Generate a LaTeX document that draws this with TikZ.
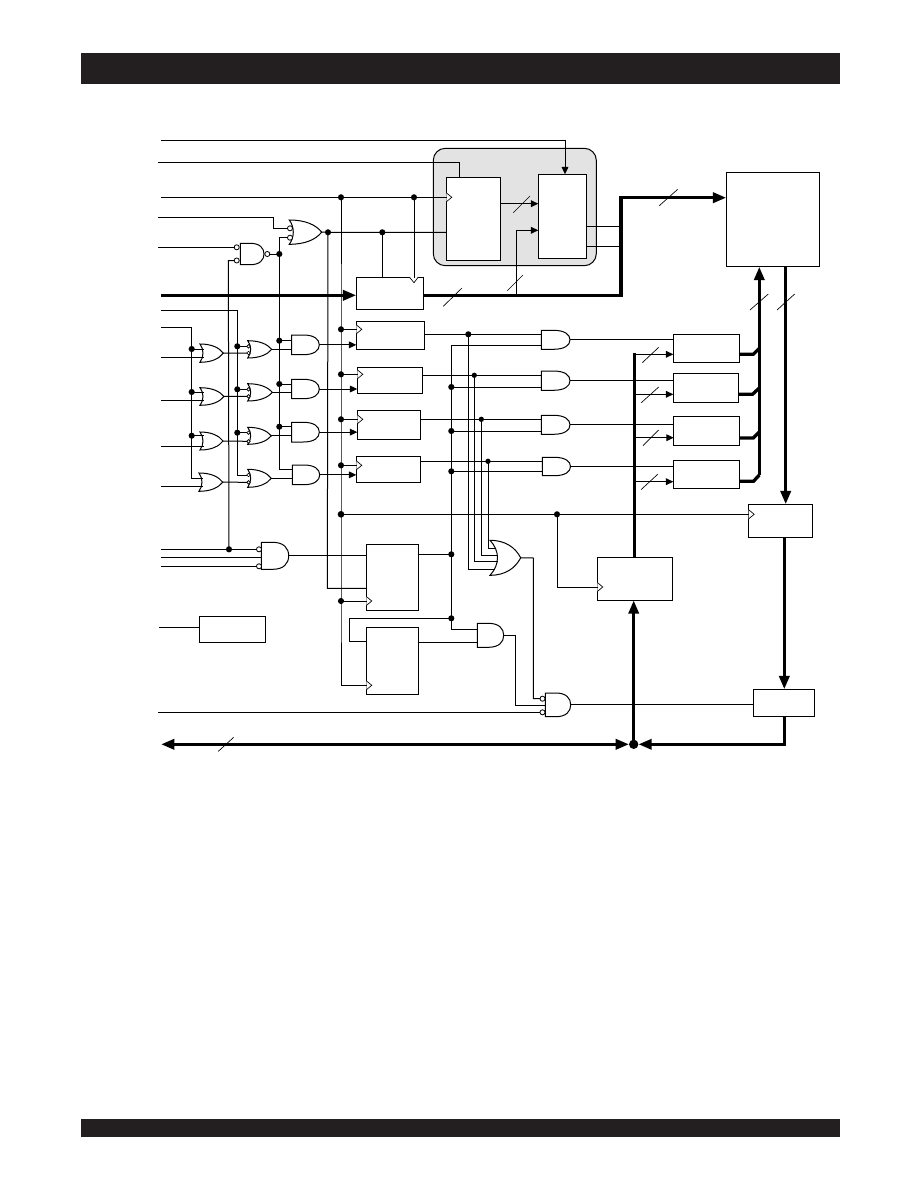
\documentclass[tikz,border=0pt]{standalone}
\usetikzlibrary{arrows.meta,fit,calc}
\definecolor{panelgrey}{gray}{0.89}
\definecolor{barblack}{HTML}{231F20}
\tikzset{
  wire/.style={line width=.75pt,line cap=rect},
  bus/.style={line width=2.5pt,line join=miter},
  thinslash/.style={line width=.5pt},
  boxn/.style={draw,line width=.75pt,fill=white,inner sep=0pt,outer sep=0pt},
  gatebb/.style={inner sep=0pt,outer sep=0pt},
  gateline/.style={line width=.75pt,fill=white},
  junct/.style={circle,fill=black,inner sep=0pt,outer sep=0pt,minimum size=4.6pt},
  bigjunct/.style={circle,fill=black,inner sep=0pt,outer sep=0pt,minimum size=7pt},
  bub/.style={circle,draw,line width=.6pt,fill=white,inner sep=0pt,outer sep=0pt,minimum size=3.8pt},
  smallbub/.style={circle,draw,line width=.5pt,fill=white,inner sep=0pt,outer sep=0pt,minimum size=2.6pt},
  sarrow/.style={-{Triangle[length=5.5pt,width=5pt]}},
  barrow/.style={-{Triangle[length=10pt,width=7.5pt]}},
  barrowboth/.style={{Triangle[length=10pt,width=7.5pt]}-{Triangle[length=10pt,width=7.5pt]}},
}
\newcommand\mkbox[5]{\node[boxn,fit={(#2,#3)(#4,#5)}] (#1) {};}
\newcommand\andg[5]{%
  \draw[gateline] (#2,#3) -- ({#2+.42*(#4-#2)},#3)
    .. controls ({#2+.82*(#4-#2)},#3) and (#4,{#3+.22*(#5-#3)}) .. (#4,{(#3+#5)/2})
    .. controls (#4,{#5-.22*(#5-#3)}) and ({#2+.82*(#4-#2)},#5) .. ({#2+.42*(#4-#2)},#5)
    -- (#2,#5) -- cycle;
  \node[gatebb,fit={(#2,#3)(#4,#5)}] (#1) {};}
\newcommand\org[6]{%
  \draw[gateline] (#2,#3) .. controls ({#2+.5*(#4-#2)},#3) and ({#2+.82*(#4-#2)},{#3+.2*(#5-#3)}) .. (#4,{(#3+#5)/2})
    .. controls ({#2+.82*(#4-#2)},{#5-.2*(#5-#3)}) and ({#2+.5*(#4-#2)},#5) .. (#2,#5)
    .. controls ({#2+1.33*#6},{#5-.3*(#5-#3)}) and ({#2+1.33*#6},{#3+.3*(#5-#3)}) .. cycle;
  \node[gatebb,fit={(#2,#3)(#4,#5)}] (#1) {};}
\newcommand\clkl[2]{\draw[line width=.5pt,fill=white] (#1,{#2-4.5}) -- ({#1+5.5},#2) -- (#1,{#2+4.5});}
\newcommand\slsh[4]{\draw[thinslash] (#1,#2) -- (#3,#4);}
\begin{document}
\begin{tikzpicture}[x=.75pt,y=-.75pt]
\useasboundingbox (0,0) rectangle (918,1188);
% header and footer bars
\fill[barblack] (81,53) rectangle (840,84);
\fill[barblack] (81,1119) rectangle (840,1137);
% shaded panel
\draw[line width=.75pt,fill=panelgrey,rounded corners=9pt] (433.3,148.3) rectangle (596.3,265.7);
% boxes
\mkbox{regA}{446.3}{177.3}{500.3}{260.3}
\mkbox{regB}{538.3}{174.3}{586.3}{258.3}
\mkbox{mem}{726.3}{172.3}{819.3}{266.7}
\mkbox{addr}{356.3}{277}{423.7}{309.3}
\mkbox{ka}{356.3}{321.7}{424.3}{349.3}
\mkbox{kb}{357.3}{367.3}{422.3}{393.3}
\mkbox{kc}{357.3}{410.3}{420.3}{439.3}
\mkbox{kd}{356.3}{456.3}{420.3}{482.3}
\mkbox{ta}{673.3}{334.3}{739.3}{362.3}
\mkbox{tb}{673.3}{373.3}{738.3}{402.3}
\mkbox{tc}{673.7}{416.3}{739.7}{445.3}
\mkbox{td}{673.3}{460.3}{739.3}{488.3}
\mkbox{outreg}{748.7}{504.3}{812.3}{537.3}
\mkbox{inreg}{597.3}{557.3}{672.3}{600.3}
\mkbox{drv}{753.3}{689.3}{814.7}{716.7}
\mkbox{ffa}{366.3}{544.3}{418.3}{610.3}
\mkbox{ffb}{366.3}{627.3}{418.3}{694.3}
\mkbox{small}{199.3}{616.3}{265.7}{642.3}
% gates
\org{ortop}{289.3}{220}{321.7}{244.3}{4}
\andg{nand}{240.3}{243.3}{264}{264.7}
\org{la}{200}{344}{223.3}{362.3}{3}
\org{lb}{200}{387.7}{224}{405.3}{3}
\org{lc}{200}{432}{223}{450}{3}
\org{ld}{199}{473}{222.7}{491.3}{3}
\org{ma}{247.7}{340.7}{271.7}{358}{3}
\org{mb}{247.7}{383.7}{272.3}{401}{3}
\org{mc}{247.7}{427.3}{271.3}{444.3}{3}
\org{md}{247.7}{469.3}{271.3}{487.3}{3}
\andg{aa}{291.7}{335}{319.3}{354.7}
\andg{ab}{291.7}{379.3}{319.3}{398.7}
\andg{ac}{291.7}{422.3}{319.3}{442}
\andg{ad}{292.3}{465}{319.7}{484.7}
\andg{ra}{541.3}{330.3}{570}{349.3}
\andg{rb}{541.3}{371}{570}{390.3}
\andg{rc}{541.3}{415.3}{570}{434.3}
\andg{rd}{542.3}{457.3}{570.5}{475.7}
\org{orbig}{490}{540.3}{520.7}{575.3}{7.5}
\andg{and5}{477.3}{623.3}{503.7}{647.3}
\andg{and6}{545.3}{693}{570.7}{716.7}
\andg{andbig}{261.3}{542.3}{288.7}{569.3}
% bubbles
\node[bub] (b1) at (290,228.3) {};
\node[bub] (b2) at (290,237.7) {};
\node[bub] (b3) at (236.7,247.3) {};
\node[bub] (b4) at (236.7,260.5) {};
\node[bub] (b5) at (267.3,254) {};
\node[bub] (b6) at (259,549.3) {};
\node[bub] (b7) at (259,566.3) {};
\node[bub] (b8) at (542.5,698.7) {};
\node[bub] (b9) at (542.5,712.3) {};
\node[smallbub] (s1) at (248.5,346.3) {};
\node[smallbub] (s2) at (248.5,353) {};
\node[smallbub] (s3) at (248.5,389.3) {};
\node[smallbub] (s4) at (248.5,396.3) {};
\node[smallbub] (s5) at (248.5,432.7) {};
\node[smallbub] (s6) at (248.5,441.3) {};
\node[smallbub] (s7) at (248.5,475) {};
\node[smallbub] (s8) at (248.5,482.3) {};
% junctions
\node[junct] (clk) at (341,197.3) {};
\node[junct] (clk2) at (414,197.3) {};
\node[junct] (oe) at (328,232.3) {};
\node[junct] (oe2) at (382.3,232.3) {};
\node[junct] (n1) at (279.3,254) {};
\node[junct] (n2) at (279.3,340.7) {};
\node[junct] (n3) at (279.3,384) {};
\node[junct] (n4) at (279.3,426.7) {};
\node[junct] (p1) at (237.3,346.3) {};
\node[junct] (p2) at (237.3,389.3) {};
\node[junct] (p3) at (237.3,432.7) {};
\node[junct] (q1) at (191.7,349) {};
\node[junct] (q2) at (191.7,392) {};
\node[junct] (q3) at (191.7,435.7) {};
\node[junct] (c1) at (341,329.3) {};
\node[junct] (c2) at (341,374.3) {};
\node[junct] (c3) at (341,419.3) {};
\node[junct] (c4) at (341,465.3) {};
\node[junct,minimum size=5pt] (c5) at (341,514.3) {};
\node[junct] (c6) at (341,601) {};
\node[junct] (r1) at (229,549.3) {};
\node[junct] (v1) at (468.3,334.3) {};
\node[junct,minimum size=4pt] (v2) at (474.3,375.3) {};
\node[junct,minimum size=4pt] (v3) at (481.3,419.3) {};
\node[junct,minimum size=4pt] (v4) at (488,461.3) {};
\node[junct] (w2) at (451.3,387) {};
\node[junct] (w3) at (451.3,431) {};
\node[junct] (w4) at (451.3,471.3) {};
\node[junct] (w5) at (451.3,554.3) {};
\node[junct] (w6) at (451.3,618.3) {};
\node[junct] (u1) at (557,514.3) {};
\node[bigjunct] (hub) at (633.7,744.3) {};
\coordinate (busturn) at (621,295.3);
\coordinate (bustop) at (621,197.7);
\coordinate (rail) at (759.3,475);
% clock marks
\clkl{446.3}{197.3}
\clkl{356.3}{329.3}\clkl{357.3}{374.3}\clkl{357.3}{419.3}\clkl{356.3}{465.3}
\clkl{366.3}{601}\clkl{366.3}{685.3}
\clkl{748.7}{514.3}\clkl{597.3}{587}
\draw[line width=.5pt,fill=white] (409.3,277) -- (414,282.7) -- (418.3,277);
% thin wires: top inputs
\draw[wire,sarrow] (161,140.3) -- (565,140.3) -- (regB.north -| 565,0);
\draw[wire] (158,162.3) -- (459.3,162.3) -- (regA.north -| 459.3,0);
\draw[wire] (161,197.3) -- (clk) -- (clk2) -- (regA.west |- clk);
\draw[wire] (158,217.3) -- (273.3,217.3) -- (273.3,228.3) -- (b1.west);
\draw[wire] (b2.west) -- (279.3,237.7) -- (n1.center);
\draw[wire] (n1.center) -- (n2.center) -- (n3.center) -- (n4.center) -- (279.3,469.3) -- (ad.west |- 0,469.3);
\draw[wire] (b5.east) -- (n1.center);
\draw[wire] (ortop.east) -- (oe.center) -- (oe2.center) -- (regA.west |- oe2);
\draw[wire] (oe.center) -- (327.3,588.3) -- (ffa.west |- 0,588.3);
\draw[wire] (oe2.center) -- (addr.north -| oe2);
\draw[wire] (clk2.center) -- (414,277);
\draw[wire] (158,247.3) -- (b3.west);
\draw[wire] (b4.west) -- (228.3,260.5) -- (r1.center);
% second input rails
\draw[wire] (161,310.3) -- (237.3,310.3) -- (p1.center) -- (p2.center) -- (p3.center) -- (237.3,475) -- (s7.west);
\draw[wire] (161,327.3) -- (191.7,327.3) -- (q1.center) -- (q2.center) -- (q3.center) -- (191.7,478.3) -- (202,478.3);
\foreach \pa in {q1,q2,q3} \draw[wire] (\pa.center) -- (203,0 |- \pa);
\draw[wire] (161,357.3) -- (203,357.3);
\draw[wire] (161,400.3) -- (203,400.3);
\draw[wire] (161,446.3) -- (203,446.3);
\draw[wire] (161,486.3) -- (202,486.3);
\draw[wire] (la.east) -- (s2.west);
\draw[wire] (lb.east) -- (s4.west);
\draw[wire] (lc.east) -- (s6.west);
\draw[wire] (ld.east) -- (s8.west);
\draw[wire] (p1.center) -- (s1.west);
\draw[wire] (p2.center) -- (s3.west);
\draw[wire] (p3.center) -- (s5.west);
\draw[wire] (ma.east) -- (aa.west |- ma.east);
\draw[wire] (mb.east) -- (ab.west |- mb.east);
\draw[wire] (mc.east) -- (ac.west |- mc.east);
\draw[wire] (md.east) -- (ad.west |- md.east);
\draw[wire] (n2.center) -- (aa.west |- n2);
\draw[wire] (n3.center) -- (ab.west |- n3);
\draw[wire] (n4.center) -- (ac.west |- n4);
\draw[wire,sarrow] (aa.east) -- (ka.west |- aa.east);
\draw[wire,sarrow] (ab.east) -- (kb.west |- ab.east);
\draw[wire,sarrow] (ac.east) -- (kc.west |- ac.east);
\draw[wire,sarrow] (ad.east) -- (kd.west |- ad.east);
% clock rail
\draw[wire] (clk.center) -- (c1.center) -- (c2.center) -- (c3.center) -- (c4.center) -- (c5.center) -- (c6.center) -- (341,685.3) -- (ffb.west |- 0,685.3);
\draw[wire] (c1.center) -- (ka.west |- c1);
\draw[wire] (c2.center) -- (kb.west |- c2);
\draw[wire] (c3.center) -- (kc.west |- c3);
\draw[wire] (c4.center) -- (kd.west |- c4);
\draw[wire] (c6.center) -- (ffa.west |- c6);
\draw[wire] (c5.center) -- (u1.center) -- (outreg.west |- u1);
\draw[wire] (u1.center) -- (557,587) -- (inreg.west |- 0,587);
% lower left
\draw[wire] (161,549.3) -- (r1.center) -- (b6.west);
\draw[wire] (161,557.3) -- (andbig.west |- 0,557.3);
\draw[wire] (161,566.3) -- (b7.west);
\draw[wire] (andbig.east) -- (ffa.west |- andbig.east);
\draw[wire] (159,627.3) -- (small.west |- 0,627.3);
\draw[wire] (158,712.3) -- (b9.west);
% register to gate wires
\draw[wire] (ka.east |- v1) -- (v1.center) -- (ra.west |- v1);
\draw[wire] (kb.east |- v2) -- (v2.center) -- (rb.west |- v2);
\draw[wire] (kc.east |- v3) -- (v3.center) -- (rc.west |- v3);
\draw[wire] (kd.east |- v4) -- (v4.center) -- (rd.west |- v4);
\draw[wire] (ra.west |- 0,345.3) -- (451.3,345.3) -- (w2.center) -- (w3.center) -- (w4.center) -- (w5.center) -- (w6.center) -- (451.3,629.3) -- (and5.west |- 0,629.3);
\draw[wire] (w2.center) -- (rb.west |- w2);
\draw[wire] (w3.center) -- (rc.west |- w3);
\draw[wire] (w4.center) -- (rd.west |- w4);
\draw[wire] (ffa.east |- w5) -- (w5.center);
\draw[wire] (ffb.west |- 0,641.3) -- (349.3,641.3) -- (349.3,618.3) -- (w6.center);
\draw[wire] (ffb.east |- 0,642.3) -- (and5.west |- 0,642.3);
% wires to big OR
\draw[wire] (v1.center) -- (468.3,569) -- (494,569);
\draw[wire] (v2.center) -- (474.3,561.3) -- (497.3,561.3);
\draw[wire] (v3.center) -- (481.3,555) -- (497.3,555);
\draw[wire] (v4.center) -- (488,548.3) -- (494.5,548.3);
\draw[wire] (orbig.east) -- (533.3,558) -- (533.3,698.7) -- (b8.west);
\draw[wire] (and5.east) -- (515.7,635.3) -- (515.7,705.7) -- (and6.west |- 0,705.7);
% gate outputs to right
\draw[wire] (ra.east) -- (ta.west |- ra.east);
\draw[wire] (rb.east) -- (tb.west |- rb.east);
\draw[wire] (rc.east) -- (tc.west |- rc.east);
\draw[wire] (rd.east) -- (td.west |- rd.east);
\draw[wire] (and6.east) -- (drv.west |- and6.east);
% panel wires
\draw[wire,sarrow] (regA.east |- 0,203.7) -- (regB.west |- 0,203.7);
\draw[wire,sarrow] (516.3,295.3) -- (516.3,230.3) -- (regB.west |- 0,230.3);
\draw[wire] (regB.east |- 0,226.3) -- (620,226.3);
\draw[wire] (regB.east |- 0,246.3) -- (618,246.3);
% buses
\draw[bus,barrow] (161,295.3) -- (addr.west |- 0,295.3);
\draw[bus,barrow] (addr.east |- busturn) -- (busturn) -- (bustop) -- (mem.west |- bustop);
\draw[bus,barrow] (rail) -- (mem.south -| rail);
\draw[bus,barrow] (mem.south -| 785.7,0) -- (outreg.north -| 785.7,0);
\draw[bus,barrow] (outreg.south -| 784.3,0) -- (drv.north -| 784.3,0);
\draw[bus,barrow] (drv.south -| 784.3,0) -- (784.3,744.3) -- (hub.east);
\draw[bus,barrowboth] (161,744.3) -- (hub.west);
\draw[bus,barrow] (hub.north) -- (inreg.south -| hub);
\draw[bus] (inreg.north -| 634.3,0) -- (634.3,353.3);
% register stubs onto rail
\draw[bus] (ta.east |- 0,354.3) -- (753.3,354.3) -- (759.3,348.3);
\draw[bus] (tb.east |- 0,394.3) -- (752.5,394.3) -- (759.3,388);
\draw[bus] (tc.east |- 0,438) -- (753.3,438) -- (759.3,432);
\draw[bus] (td.east |- 0,481.3) -- (753.5,481.3) -- (rail);
% bus taps
\draw[wire,sarrow] (634.3,354.3) -- (ta.west |- 0,354.3);
\draw[wire,sarrow] (634.3,394.3) -- (tb.west |- 0,394.3);
\draw[wire,sarrow] (634.3,437.7) -- (tc.west |- 0,437.7);
\draw[wire,sarrow] (636,481.7) -- (td.west |- 0,481.7);
% bus width slashes
\slsh{659.3}{205.7}{677.7}{189.3}
\slsh{513.3}{212.7}{530}{196}
\slsh{507.3}{290.7}{523}{275}
\slsh{443.3}{306.3}{462}{288}
\slsh{750}{310}{768.3}{294}
\slsh{777}{310}{794.7}{294}
\slsh{642.3}{362.7}{658.7}{347.3}
\slsh{641.3}{402.7}{658.7}{387}
\slsh{643}{445.7}{658.7}{430}
\slsh{641}{489.7}{658}{474}
\slsh{218.3}{751.3}{233.7}{737.3}
\end{tikzpicture}
\end{document}
